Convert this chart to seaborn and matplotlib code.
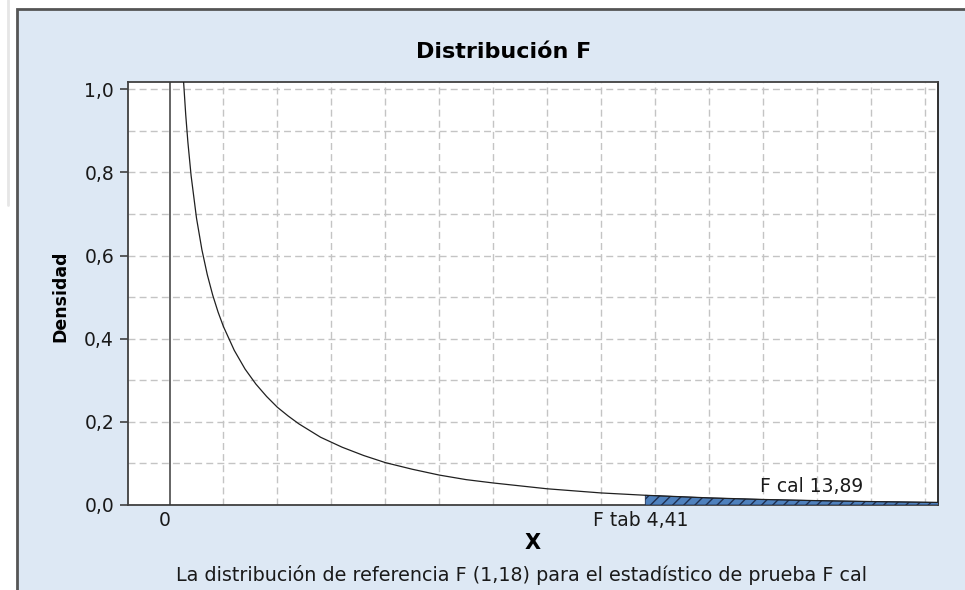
import numpy as np
import pandas as pd
import matplotlib
matplotlib.use("Agg")
import matplotlib.pyplot as plt
from matplotlib.ticker import MultipleLocator, FuncFormatter
from matplotlib.patches import Rectangle
from matplotlib.lines import Line2D
from matplotlib.transforms import ScaledTranslation
import seaborn as sns

# ---- data (F(1,18) density curve) ----
x_vals = [0.13, 0.15, 0.17, 0.20, 0.25, 0.30, 0.35, 0.40, 0.45, 0.50, 0.60, 0.70,
          0.80, 0.90, 1.00, 1.10, 1.20, 1.40, 1.60, 1.80, 2.00, 2.25, 2.50, 2.75,
          3.00, 3.50, 4.00, 4.41, 5.00, 5.50, 6.00, 6.50, 7.00, 7.15]
dens_vals = [1.019, 0.939, 0.873, 0.792, 0.690, 0.614, 0.554, 0.505, 0.464, 0.429,
             0.372, 0.327, 0.291, 0.261, 0.235, 0.214, 0.195, 0.163, 0.139, 0.119,
             0.102, 0.086, 0.072, 0.061, 0.053, 0.039, 0.029, 0.0234, 0.0171,
             0.0133, 0.0105, 0.0083, 0.0066, 0.0061]
f_tab = 4.41
f_cal = 13.89
x_tick_vals = [0, f_tab]
x_tick_labels = ["0", "F tab 4,41"]
title = "Distribución F"
xlabel = "X"
ylabel = "Densidad"
subtitle = "La distribución de referencia F (1,18) para el estadístico de prueba F cal"
fcal_label = "F cal 13,89"

df = pd.DataFrame({"x": x_vals, "y": dens_vals})

sns.set_theme(style="white")
plt.rcParams["font.family"] = ["DejaVu Sans"]
plt.rcParams["hatch.linewidth"] = 1.0

W, H = 965, 590
fig = plt.figure(figsize=(W / 100, H / 100), dpi=100)
fig.patch.set_facecolor("white")

# Minitab-like outer panel
fig.patches.append(Rectangle((16.5 / W, -0.2), 2.0, 1 - 9 / H + 0.2,
                             transform=fig.transFigure, facecolor="#DDE8F4",
                             edgecolor="#555555", linewidth=2.0, zorder=-10))
fig.lines.append(Line2D([8 / W, 8 / W], [1.0, 1 - 205 / H], transform=fig.transFigure,
                        color="#E6E6E6", linewidth=2.0))

left, right, top, bottom = 128, 938, 82, 505
ax = fig.add_axes([left / W, 1 - bottom / H, (right - left) / W, (bottom - top) / H])
ax.set_facecolor("white")

xmin, xmax = -0.385, 7.123
ymin, ymax = 0.0, 1.0175
ax.set_xlim(xmin, xmax)
ax.set_ylim(ymin, ymax)

# grid
ax.xaxis.set_minor_locator(MultipleLocator(0.5))
ax.yaxis.set_major_locator(MultipleLocator(0.2))
ax.yaxis.set_minor_locator(MultipleLocator(0.1))
ax.grid(True, which="minor", axis="x", color="#C4C4C4", linestyle=(0, (5, 3)), linewidth=1.0)
ax.grid(True, which="both", axis="y", color="#C4C4C4", linestyle=(0, (5, 3)), linewidth=1.0)
ax.set_axisbelow(True)

# shaded region
tail = df[df["x"] >= f_tab]
ax.fill_between(tail["x"], 0, tail["y"], facecolor="#4F81BD", edgecolor="#1F2F4F",
                hatch="///", linewidth=0.6, zorder=3)

ax.axvline(0, color="#3A3A3A", linewidth=1.1, zorder=4)
sns.lineplot(data=df, x="x", y="y", ax=ax, color="#202020", linewidth=0.9, zorder=5)

ax.set_xticks(x_tick_vals)
ax.set_xticklabels(x_tick_labels)
ax.yaxis.set_major_formatter(FuncFormatter(lambda v, p: f"{v:.1f}".replace(".", ",")))
ax.tick_params(axis="x", which="both", length=0, pad=4, labelsize=13.5, colors="#1A1A1A")
ax.tick_params(axis="y", which="major", length=6, width=1.2, color="#404040",
               pad=4, labelsize=13.5, labelcolor="#1A1A1A", left=True)
ax.tick_params(axis="y", which="minor", length=0)
for lab in ax.get_xticklabels():
    lab.set_transform(lab.get_transform() + ScaledTranslation(-5 / 100, 0, fig.dpi_scale_trans))

for s in ax.spines.values():
    s.set_visible(True)
    s.set_color("#404040")
    s.set_linewidth(1.3)
ax.spines["right"].set_color("#202020")

ax.set_xlabel(xlabel, fontsize=15, fontweight="bold", color="black")
ax.xaxis.set_label_coords(0.5, (bottom - 543) / (bottom - top))
ax.xaxis.label.set_verticalalignment("center")
ax.set_ylabel(ylabel, fontsize=12.5, fontweight="bold", color="black")
ax.yaxis.set_label_coords((60 - left) / (right - left), (bottom - 296) / (bottom - top))
ax.yaxis.label.set_verticalalignment("center")

ax.text(5.95, 0.045, fcal_label, ha="center", va="center", fontsize=13.5, color="#1A1A1A", zorder=6)

fig.text(504 / W, 1 - 52 / H, title, ha="center", va="center", fontsize=16,
         fontweight="bold", color="black")
fig.text(521 / W, 1 - 575 / H, subtitle, ha="center", va="center", fontsize=13.8,
         color="#1A1A1A")

fig.savefig("out.png", dpi=100, facecolor=fig.get_facecolor())
